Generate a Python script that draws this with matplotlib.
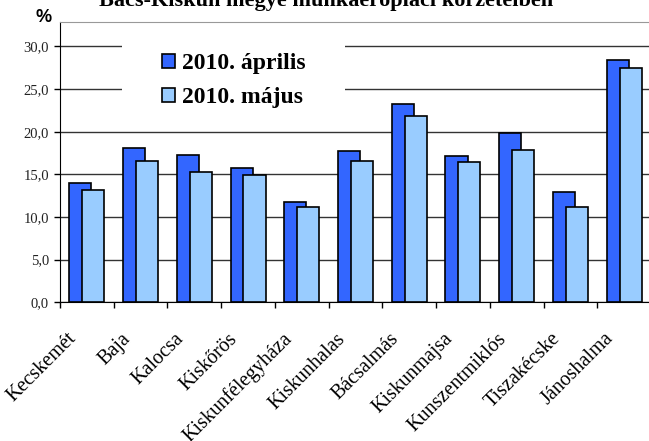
import numpy as np
import matplotlib
matplotlib.use("Agg")
import matplotlib.pyplot as plt
from matplotlib.patches import Rectangle
from matplotlib.transforms import offset_copy

# data
korzetek = ["Kecskemét", "Baja", "Kalocsa", "Kiskőrös", "Kiskunfélegyháza",
            "Kiskunhalas", "Bácsalmás", "Kiskunmajsa", "Kunszentmiklós",
            "Tiszakécske", "Jánoshalma"]
aprilis = [14.0, 18.1, 17.3, 15.7, 11.8, 17.7, 23.2, 17.1, 19.8, 12.9, 28.4]
majus = [13.2, 16.6, 15.3, 14.9, 11.2, 16.6, 21.8, 16.4, 17.9, 11.2, 27.5]
yticks = [0, 5, 10, 15, 20, 25, 30]
ytick_labels = ["0,0", "5,0", "10,0", "15,0", "20,0", "25,0", "30,0"]

serif = "Liberation Serif"

fig = plt.figure(figsize=(6.49, 4.41), dpi=100)
ax = fig.add_axes([60/649, (441-302.3)/441, 591/649, 280.6/441])

x = np.arange(len(korzetek)) + 0.5
w = 0.41
b1 = ax.bar(x - 0.12, aprilis, w, color="#3366FF", edgecolor="black", linewidth=1.2, zorder=2, label="2010. április")
b2 = ax.bar(x + 0.12, majus, w, color="#99CCFF", edgecolor="black", linewidth=1.2, zorder=3, label="2010. május")

ax.set_xlim(0, len(korzetek))
ax.set_ylim(0, 32.9)
ax.set_yticks(yticks)
ax.set_yticklabels(ytick_labels, family=serif, fontsize=10.5, color="#222222")
ax.set_xticks(np.arange(len(korzetek) + 1))
ax.set_xticklabels([])
ax.tick_params(axis="both", direction="out", length=4, width=1, pad=4)
ax.yaxis.grid(True, color="#333333", linewidth=1)
ax.set_axisbelow(True)

ax.spines["top"].set_color("#999999")
ax.spines["right"].set_visible(False)
ax.spines["left"].set_color("black")
ax.spines["bottom"].set_color("black")

# category labels, rotated
tr = offset_copy(ax.get_xaxis_transform(), fig=fig, x=-20, y=-27, units="dots")
for xi, name in zip(x, korzetek):
    ax.text(xi, 0, name, transform=tr, rotation=45, rotation_mode="anchor",
            ha="right", va="top", family=serif, fontsize=14.5)

# white box behind the legend
ax.add_patch(Rectangle((122/649, 1 - 118/441), (345-122)/649, 85/441,
                       transform=fig.transFigure, facecolor="white",
                       edgecolor="none", zorder=1.5, clip_on=False))

leg = ax.legend(handles=[b1, b2], loc="upper left",
                bbox_to_anchor=(162/649, 1 - 53/441), bbox_transform=fig.transFigure,
                frameon=False, prop={"family": serif, "weight": "bold", "size": 17},
                handlelength=0.55, handleheight=0.55, handletextpad=0.3,
                labelspacing=0.55, borderpad=0, borderaxespad=0)

fig.text(326/649, 1 - 6/441, "Bács-Kiskun megye munkaerőpiaci körzeteiben",
         ha="center", va="baseline", family=serif, weight="bold", fontsize=16)
fig.text(44/649, 1 - 17/441, "%", ha="center", va="center",
         family="Liberation Sans", weight="bold", fontsize=13)

fig.savefig("out.png", dpi=100)
